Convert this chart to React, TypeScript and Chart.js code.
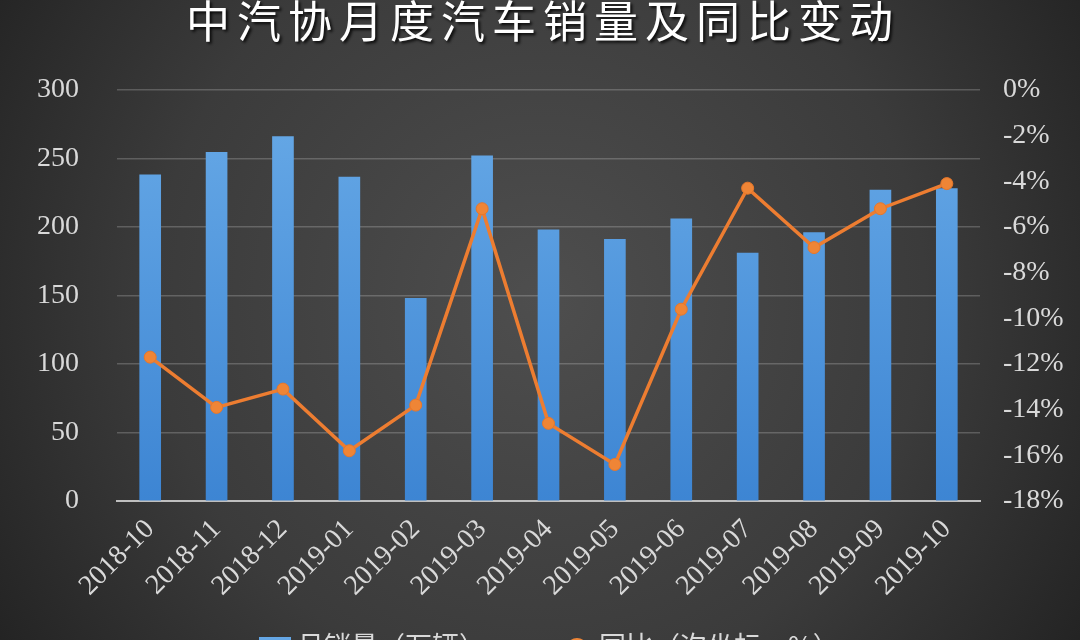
import React, { useEffect, useRef } from "react";
import { Chart, registerables } from "chart.js";

Chart.register(...registerables);

const titleText = "中汽协月度汽车销量及同比变动";
const categories = [
  "2018-10", "2018-11", "2018-12", "2019-01", "2019-02", "2019-03", "2019-04",
  "2019-05", "2019-06", "2019-07", "2019-08", "2019-09", "2019-10",
];
const salesLabel = "月销量（万辆）";
const salesValues = [238, 254.5, 266, 236.5, 148, 252, 198, 191, 206, 181, 196, 227, 228];
const yoyLabel = "同比（次坐标，%）";
const yoyValues = [-11.7, -13.9, -13.1, -15.8, -13.8, -5.2, -14.6, -16.4, -9.6, -4.3, -6.9, -5.2, -4.1];

const W = 1080;
const H = 640;

const bgPlugin = {
  id: "bgPlugin",
  beforeDraw(chart: any) {
    const ctx = chart.ctx;
    ctx.save();
    const g = ctx.createRadialGradient(540, 300, 0, 540, 300, 700);
    g.addColorStop(0, "#4e4e4e");
    g.addColorStop(0.55, "#3b3b3b");
    g.addColorStop(1, "#1e1e1e");
    ctx.fillStyle = g;
    ctx.fillRect(0, 0, chart.width, chart.height);
    ctx.font = "44px 'Noto Sans CJK SC'";
    (ctx as any).letterSpacing = "7px";
    ctx.textAlign = "center";
    ctx.textBaseline = "middle";
    ctx.shadowColor = "rgba(0,0,0,0.85)";
    ctx.shadowOffsetX = 2;
    ctx.shadowOffsetY = 2;
    ctx.shadowBlur = 3;
    ctx.fillStyle = "#ffffff";
    ctx.fillText(titleText, 543, 21);
    ctx.restore();
  },
  afterDraw(chart: any) {
    // legend (partly below the visible picture, like the reference)
    const ctx = chart.ctx;
    const bar = chart.data.datasets[1];
    const line = chart.data.datasets[0];
    ctx.save();
    ctx.font = "27px 'Noto Sans CJK SC'";
    ctx.textAlign = "left";
    ctx.textBaseline = "middle";
    ctx.fillStyle = "#5b9bd5";
    const bg = ctx.createLinearGradient(0, 637, 0, 669);
    bg.addColorStop(0, "#66a8e6");
    bg.addColorStop(1, "#3d85d3");
    ctx.fillStyle = bg;
    ctx.fillRect(259, 637, 32, 32);
    ctx.fillStyle = "#d9d9d9";
    ctx.fillText(bar.label, 297, 646);
    ctx.strokeStyle = "#ed7d31";
    ctx.lineWidth = 4;
    ctx.beginPath();
    ctx.moveTo(557, 651);
    ctx.lineTo(597, 651);
    ctx.stroke();
    ctx.fillStyle = "#ef8536";
    ctx.beginPath();
    ctx.arc(577, 649, 11, 0, Math.PI * 2);
    ctx.fill();
    ctx.fillStyle = "#d9d9d9";
    ctx.fillText(line.label, 599, 646);
    ctx.restore();
  },
};

export default function App() {
  const ref = useRef<HTMLCanvasElement>(null);
  useEffect(() => {
    const canvas = ref.current!;
    const ctx = canvas.getContext("2d")!;
    const grad = ctx.createLinearGradient(0, 90, 0, 501);
    grad.addColorStop(0, "#68aae7");
    grad.addColorStop(1, "#3d85d3");
    const tickFont = { family: "'Liberation Serif', serif", size: 28 };
    const chart = new Chart(canvas, {
      type: "bar",
      data: {
        labels: categories,
        datasets: [
          {
            type: "line",
            label: yoyLabel,
            data: yoyValues,
            yAxisID: "y1",
            borderColor: "#ed7d31",
            backgroundColor: "#ed7d31",
            borderWidth: 3.5,
            pointRadius: 6,
            pointBackgroundColor: "#ef8536",
            pointBorderColor: "#e8772a",
            pointBorderWidth: 1,
            tension: 0,
            order: 0,
          } as any,
          {
            type: "bar",
            label: salesLabel,
            data: salesValues,
            yAxisID: "y",
            backgroundColor: grad,
            borderWidth: 0,
            barThickness: 21,
            order: 1,
          } as any,
        ],
      },
      options: {
        responsive: false,
        animation: false,
        layout: { padding: { top: 90, left: 0, right: 0, bottom: 31 } },
        plugins: {
          title: { display: false },
          tooltip: { enabled: false },
          legend: { display: false },
        },
        scales: {
          x: {
            offset: true,
            grid: { display: false },
            border: { display: true, color: "#bfbfbf", width: 2 },
            ticks: {
              color: "#d9d9d9",
              font: tickFont,
              minRotation: 45,
              maxRotation: 45,
              padding: 4,
            },
            afterFit(scale: any) {
              scale.height = 108;
            },
          },
          y: {
            position: "left",
            min: 0,
            max: 300,
            grid: { color: "rgba(255,255,255,0.2)", lineWidth: 1.5, drawTicks: false },
            border: { display: false },
            ticks: { stepSize: 50, color: "#d9d9d9", font: tickFont, padding: 38 },
            afterFit(scale: any) {
              scale.width = 117;
            },
          },
          y1: {
            position: "right",
            min: -18,
            max: 0,
            grid: { display: false, drawTicks: false },
            border: { display: false },
            ticks: {
              stepSize: 2,
              color: "#d9d9d9",
              font: tickFont,
              padding: 23,
              callback: (v: any) => `${v}%`,
            },
            afterFit(scale: any) {
              scale.width = 100;
            },
          },
        },
      },
      plugins: [bgPlugin],
    });
    return () => chart.destroy();
  }, []);
  return (
    <div style={{ position: "absolute", left: 0, top: 0, width: W, height: H }}>
      <canvas ref={ref} width={W} height={H} style={{ display: "block" }} />
    </div>
  );
}
